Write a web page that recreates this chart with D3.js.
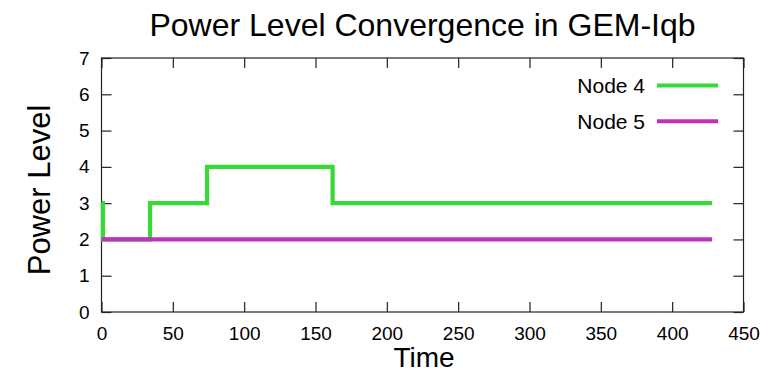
<!DOCTYPE html>
<html>
<head>
<meta charset="utf-8">
<script src="https://cdn.jsdelivr.net/npm/d3@7"></script>
<style>
  body { margin: 0; background: #fff; }
  svg { display: block; font-family: "Liberation Sans", Arial, sans-serif; }
</style>
</head>
<body>
<svg id="chart" width="782" height="373"></svg>
<script>
// Data (step changes of power level over time)
const seriesNames = ["Node 4", "Node 5"];
const node4Time = [0, 1, 34, 74, 162, 428];
const node4Level = [3, 2, 3, 4, 3, 3];
const node5Time = [0, 428];
const node5Level = [2, 2];
const xTicks = [0, 50, 100, 150, 200, 250, 300, 350, 400, 450];
const yTicks = [0, 1, 2, 3, 4, 5, 6, 7];

const colors = ["#36d936", "#c030c0"];
const widths = [4.2, 4.2];

const width = 782;
const height = 373;
const margin = { top: 58, right: 38.5, bottom: 61, left: 101.5 };

const svg = d3.select("#chart");

const xScale = d3.scaleLinear()
  .domain([0, 450])
  .range([margin.left, width - margin.right]);

const yScale = d3.scaleLinear()
  .domain([0, 7])
  .range([height - margin.bottom, margin.top]);

// Frame
svg.append("rect")
  .attr("x", margin.left)
  .attr("y", margin.top)
  .attr("width", width - margin.right - margin.left)
  .attr("height", height - margin.bottom - margin.top)
  .attr("fill", "none")
  .attr("stroke", "#222")
  .attr("stroke-width", 1.2);

// Axes: ticks point inward on all four sides, gnuplot style
const fmt = d3.format("d");

const bottomAxis = svg.append("g")
  .attr("transform", `translate(0, ${height - margin.bottom})`)
  .call(d3.axisBottom(xScale).tickValues(xTicks).tickFormat(fmt).tickSizeInner(-10).tickSizeOuter(0).tickPadding(15));

const topAxis = svg.append("g")
  .attr("transform", `translate(0, ${margin.top})`)
  .call(d3.axisTop(xScale).tickValues(xTicks).tickSizeInner(-10).tickSizeOuter(0).tickFormat(""));

const leftAxis = svg.append("g")
  .attr("transform", `translate(${margin.left}, 0)`)
  .call(d3.axisLeft(yScale).tickValues(yTicks).tickFormat(fmt).tickSizeInner(-10).tickSizeOuter(0).tickPadding(12));

const rightAxis = svg.append("g")
  .attr("transform", `translate(${width - margin.right}, 0)`)
  .call(d3.axisRight(yScale).tickValues(yTicks).tickSizeInner(-10).tickSizeOuter(0).tickFormat(""));

[bottomAxis, topAxis, leftAxis, rightAxis].forEach(g => {
  g.select(".domain").remove();
  g.selectAll(".tick line").attr("stroke", "#222").attr("stroke-width", 1.2);
  g.selectAll(".tick text")
    .attr("fill", "#000")
    .style("font-size", "19px")
    .style("font-family", "'Liberation Sans', Arial, sans-serif");
});

// Lines
const series = [
  node4Time.map((t, i) => [t, node4Level[i]]),
  node5Time.map((t, i) => [t, node5Level[i]])
];

const line = d3.line()
  .x(d => xScale(d[0]))
  .y(d => yScale(d[1]))
  .curve(d3.curveStepAfter);

// Node 5 is drawn last, so it covers Node 4 where both sit at level 2
series.forEach((s, i) => {
  svg.append("path")
    .datum(s)
    .attr("d", line)
    .attr("fill", "none")
    .attr("stroke", colors[i])
    .attr("stroke-width", widths[i])
    .attr("stroke-linejoin", "miter");
});

// Legend
const legend = svg.append("g").attr("transform", "translate(645, 85.5)");
seriesNames.forEach((name, i) => {
  const row = legend.append("g").attr("transform", `translate(0, ${i * 35.7})`);
  row.append("text")
    .attr("x", 0)
    .attr("y", 7.3)
    .attr("text-anchor", "end")
    .style("font-size", "21px")
    .text(name);
  row.append("line")
    .attr("x1", 12)
    .attr("x2", 73)
    .attr("y1", 0)
    .attr("y2", 0)
    .attr("stroke", colors[i])
    .attr("stroke-width", 4);
});

// Titles
svg.append("text")
  .attr("x", (margin.left + width - margin.right) / 2)
  .attr("y", 36)
  .attr("text-anchor", "middle")
  .style("font-size", "32px")
  .text("Power Level Convergence in GEM-Iqb");

svg.append("text")
  .attr("x", 424)
  .attr("y", 367)
  .attr("text-anchor", "middle")
  .style("font-size", "28px")
  .text("Time");

svg.append("text")
  .attr("transform", "translate(50, 190) rotate(-90)")
  .attr("text-anchor", "middle")
  .style("font-size", "31px")
  .text("Power Level");
</script>
</body>
</html>
